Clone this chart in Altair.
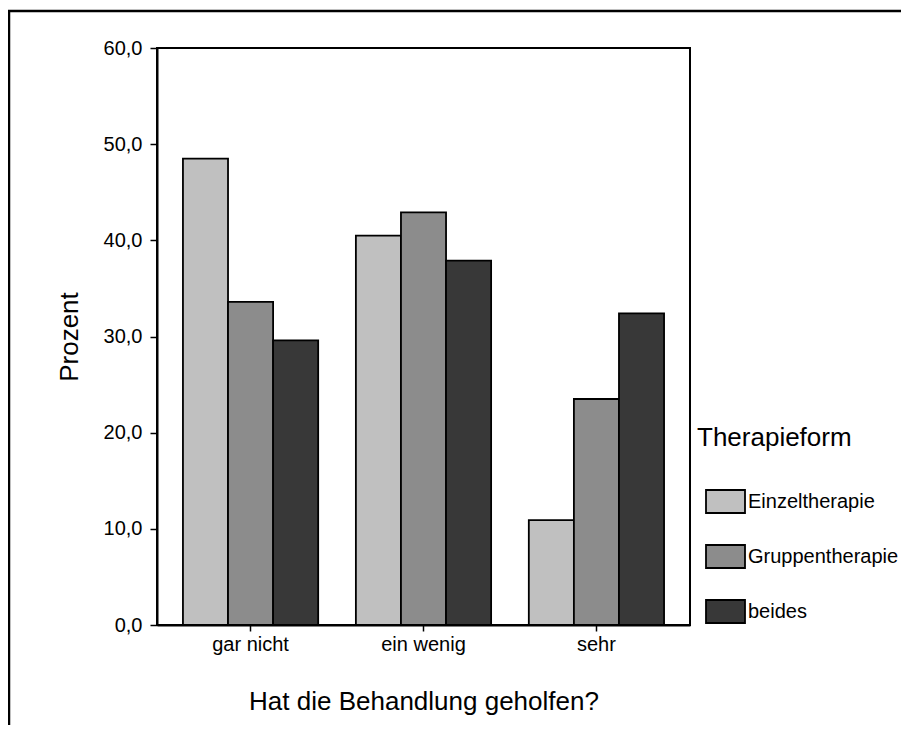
import altair as alt
import pandas as pd

# ---- data ----
categories = ["gar nicht", "ein wenig", "sehr"]
forms = ["Einzeltherapie", "Gruppentherapie", "beides"]
einzel = [48.5, 40.5, 10.9]
gruppen = [33.6, 42.9, 23.5]
beides = [29.6, 37.9, 32.4]
y_ticks = [0, 10, 20, 30, 40, 50, 60]
colors = ["#c0c0c0", "#8c8c8c", "#383838"]

rows = []
for f, vals in zip(forms, [einzel, gruppen, beides]):
    for c, v in zip(categories, vals):
        rows.append({"Kategorie": c, "Therapieform": f, "Prozent": v})
df = pd.DataFrame(rows)

W, H = 533, 577
FONT = "Liberation Sans"

bars = alt.Chart(df).mark_bar(stroke="black", strokeWidth=1.8).encode(
    x=alt.X(
        "Kategorie:N",
        sort=categories,
        title="Hat die Behandlung geholfen?",
        scale=alt.Scale(paddingInner=0.218, paddingOuter=0.15),
        axis=alt.Axis(
            labelAngle=0,
            labelFontSize=20,
            labelPadding=3,
            tickSize=6,
            titleFontSize=26,
            titleBaseline="alphabetic",
            titleY=84,
        ),
    ),
    xOffset=alt.XOffset(
        "Therapieform:N", sort=forms, scale=alt.Scale(paddingInner=0, paddingOuter=0)
    ),
    y=alt.Y(
        "Prozent:Q",
        title="Prozent",
        scale=alt.Scale(domain=[0, 60], nice=False),
        axis=alt.Axis(
            values=y_ticks,
            labelExpr="replace(format(datum.value, '.1f'), '.', ',')",
            labelFontSize=20,
            labelPadding=8,
            tickSize=7,
            titleFontSize=26,
            titleBaseline="alphabetic",
            titleX=-80,
        ),
    ),
    color=alt.Color(
        "Therapieform:N",
        sort=forms,
        scale=alt.Scale(domain=forms, range=colors),
        legend=alt.Legend(
            title="Therapieform",
            orient="none",
            legendX=540,
            legendY=377,
            padding=0,
            titleFontSize=26,
            titleFontWeight="normal",
            titleColor="black",
            titleFont=FONT,
            titlePadding=30,
            labelFontSize=20,
            labelColor="black",
            labelFont=FONT,
            labelOffset=2,
            symbolType="M-1,-0.59H1V0.59H-1Z",
            symbolSize=1521,
            symbolStrokeColor="black",
            symbolStrokeWidth=1.8,
            symbolOffset=8,
            rowPadding=19,
        ),
    ),
)

frame_src = pd.DataFrame({"k": [0]})
top_line = alt.Chart(frame_src).mark_rule(color="black", strokeWidth=2.5).encode(
    x=alt.value(-149), x2=alt.value(W + 211), y=alt.value(-37)
)
left_line = alt.Chart(frame_src).mark_rule(color="black", strokeWidth=2.5).encode(
    x=alt.value(-148), y=alt.value(-38), y2=alt.value(H + 100)
)

chart = (
    alt.layer(bars, top_line, left_line)
    .properties(
        width=W,
        height=H,
        autosize=alt.AutoSizeParams(type="none"),
        padding={"left": 149, "top": 40, "right": 211, "bottom": 100},
    )
    .configure(font=FONT, background="white")
    .configure_view(stroke="black", strokeWidth=2)
    .configure_axis(
        grid=False,
        domainColor="black",
        domainWidth=2,
        tickColor="black",
        tickWidth=1.5,
        labelColor="black",
        titleColor="black",
        titleFontWeight="normal",
        labelFont=FONT,
        titleFont=FONT,
    )
)

chart.save("out.html", embed_options={"renderer": "svg", "actions": False})
